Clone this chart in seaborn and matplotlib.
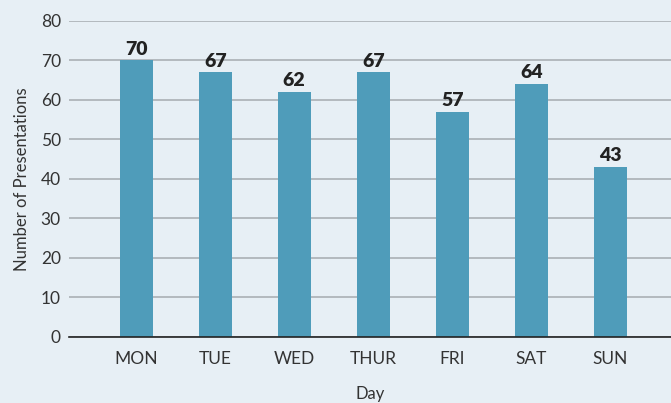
import matplotlib
matplotlib.use("Agg")
import matplotlib.pyplot as plt
import pandas as pd
import seaborn as sns

# Data
days = ["MON", "TUE", "WED", "THUR", "FRI", "SAT", "SUN"]
presentations = [70, 67, 62, 67, 57, 64, 43]

df = pd.DataFrame({"day": days, "count": presentations})

sns.set_theme(style="whitegrid")
plt.rcParams["font.family"] = ["Lato", "DejaVu Sans"]

bg = "#e7eff5"
bar_color = "#4f9cba"

fig = plt.figure(figsize=(6.71, 4.03), dpi=100, facecolor=bg)
ax = fig.add_axes([0.103, 0.164, 0.897, 0.784])
ax.set_facecolor(bg)

sns.barplot(data=df, x="day", y="count", color=bar_color, width=0.42,
            saturation=1, linewidth=0, ax=ax, zorder=3)

for i, v in enumerate(presentations):
    ax.text(i, v + 0.7, str(v), ha="center", va="bottom",
            fontsize=14, fontweight="heavy", color="#222222", zorder=4)

ax.set_ylim(0, 80)
ax.set_xlim(-0.85, 6.77)
ax.set_yticks(range(0, 81, 10))
ax.yaxis.grid(True, color="#aab0b5", linewidth=1.2)
ax.xaxis.grid(False)
for s in ["top", "right", "left"]:
    ax.spines[s].set_visible(False)
ax.spines["bottom"].set_color("#222222")
ax.spines["bottom"].set_linewidth(1.2)
ax.spines["bottom"].set_zorder(5)

ax.tick_params(axis="both", length=0, labelsize=12.5, colors="#333333")
ax.tick_params(axis="x", pad=10)
ax.tick_params(axis="y", pad=6)
ax.set_xlabel("Day", fontsize=12, color="#333333", labelpad=14)
ax.set_ylabel("Number of Presentations", fontsize=12, color="#333333", labelpad=8)

fig.savefig("out.png", dpi=100, facecolor=bg)
